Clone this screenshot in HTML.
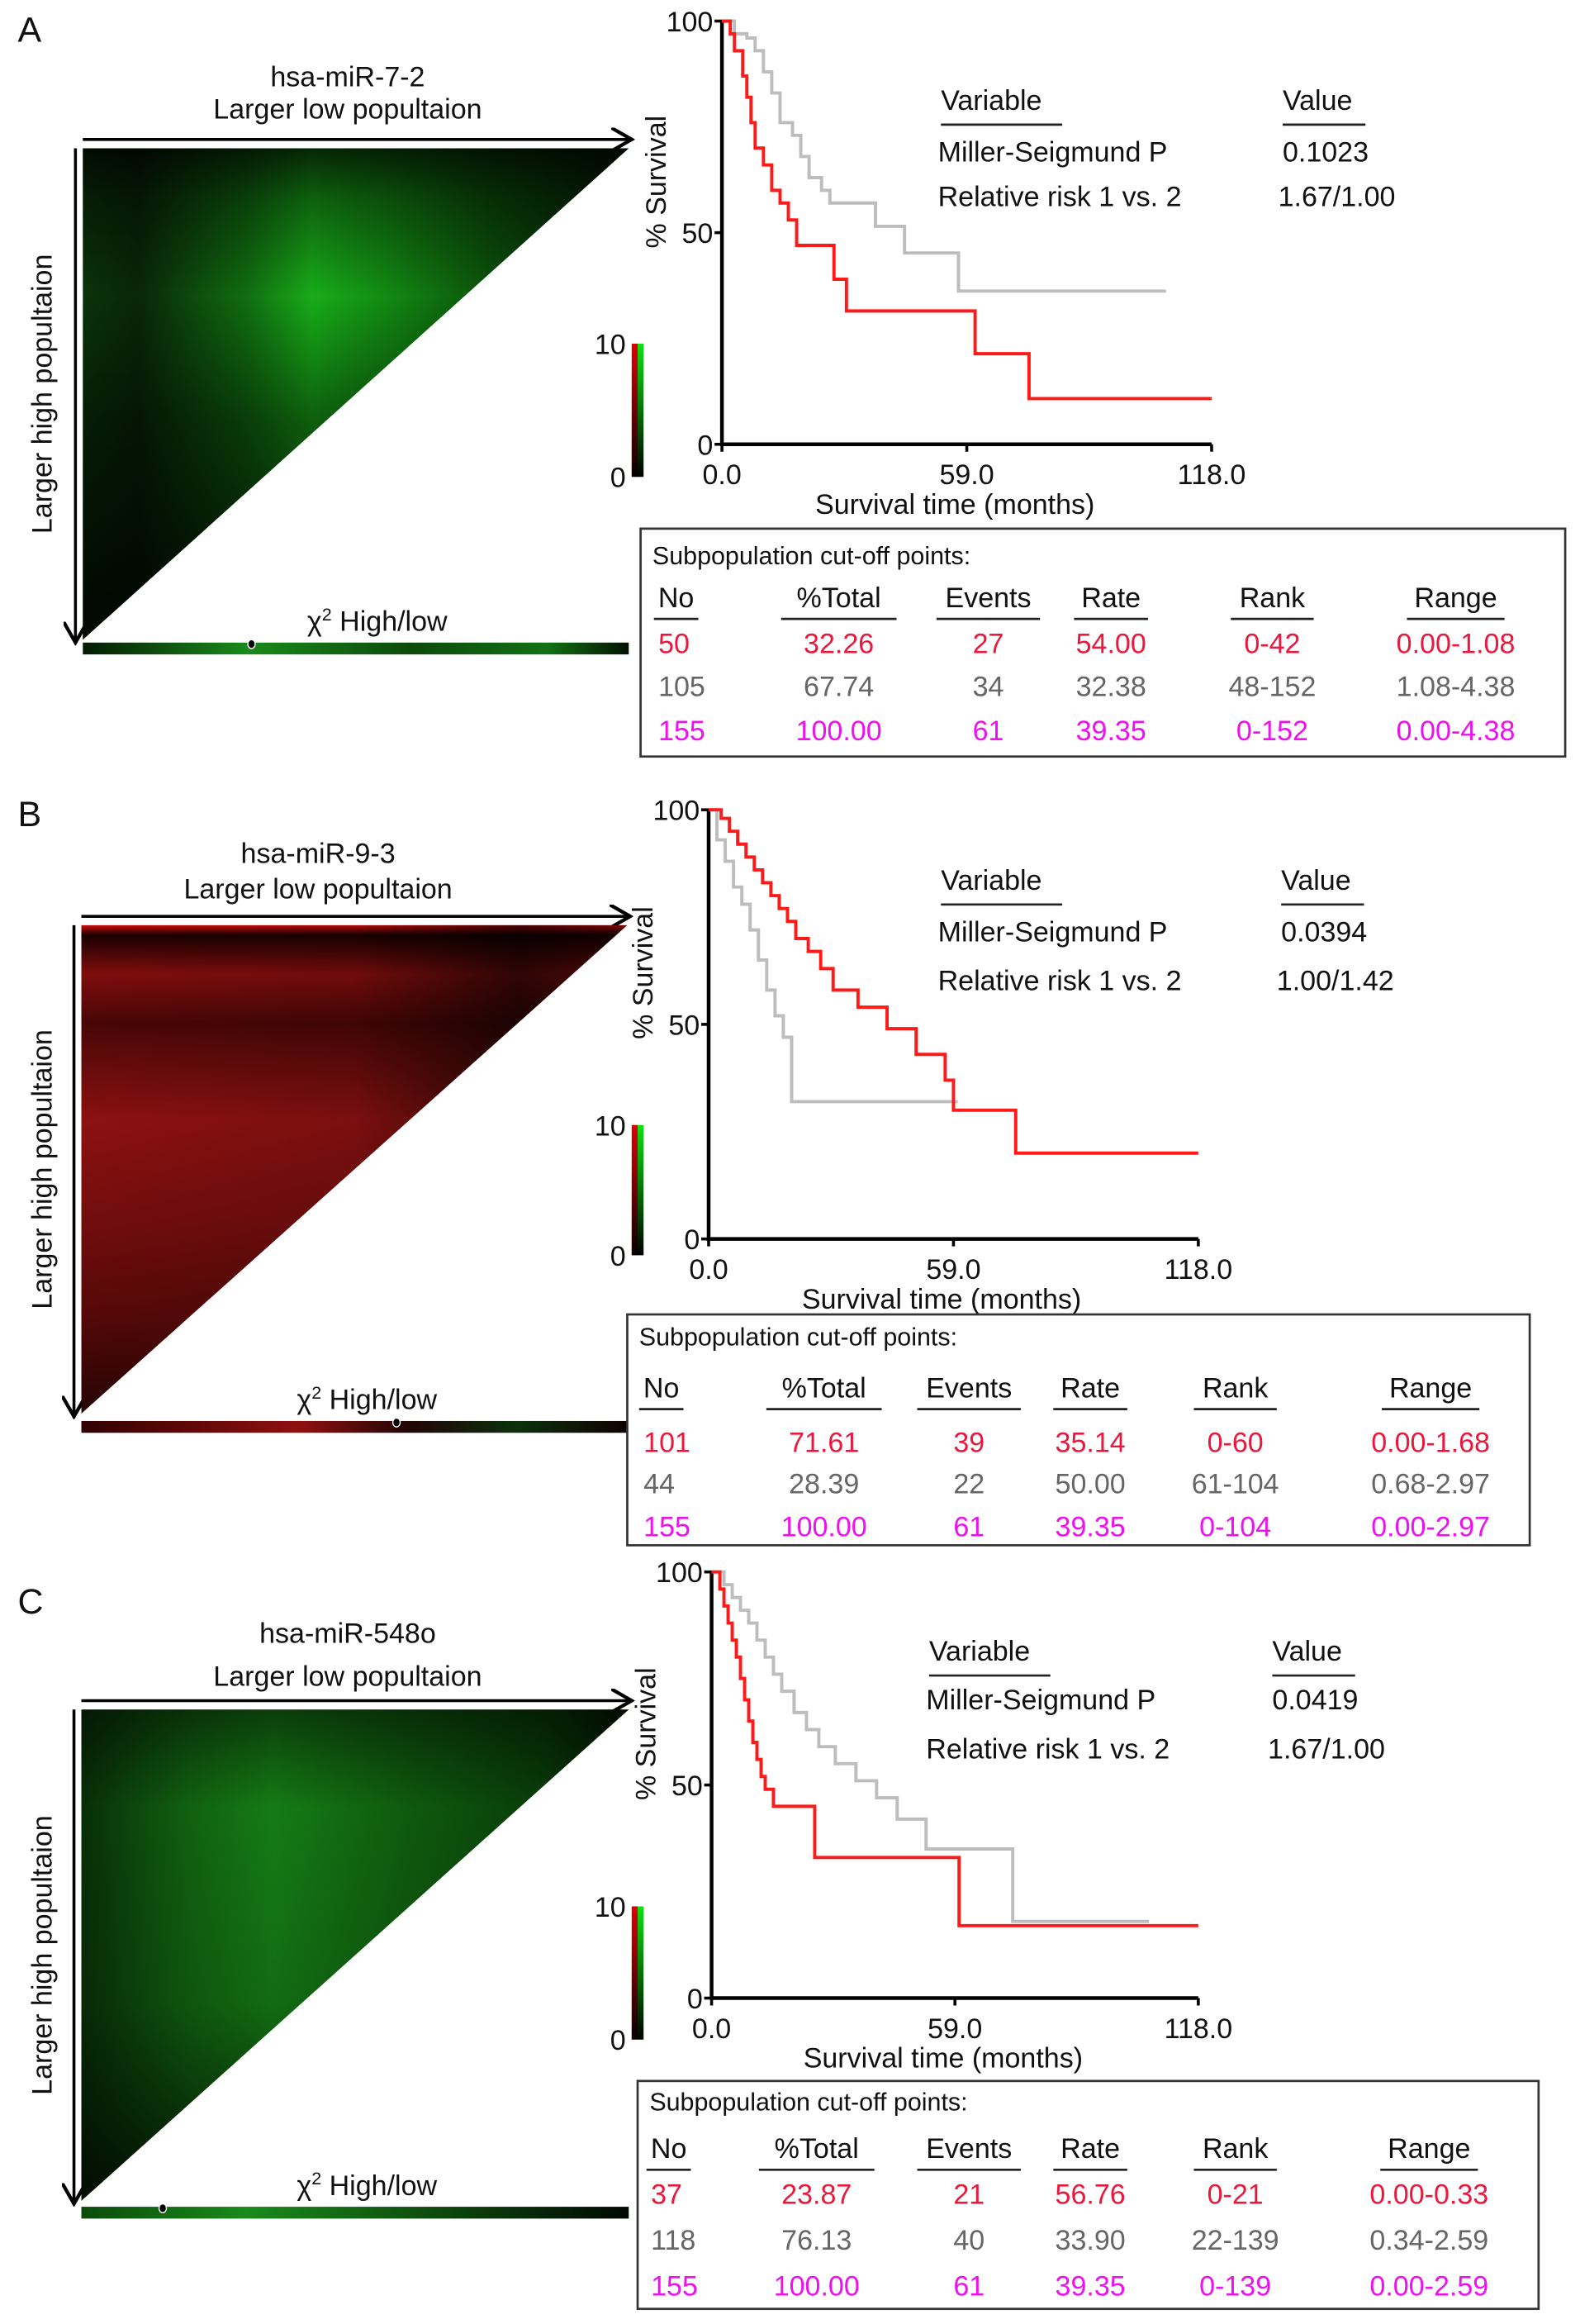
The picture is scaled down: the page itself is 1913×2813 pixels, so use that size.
<!DOCTYPE html>
<html><head><meta charset="utf-8"><style>
html,body{margin:0;padding:0;background:#fff}
svg{display:block}
text{font-family:"Liberation Sans",Arial,sans-serif;fill:#111}
</style></head><body>
<svg id="fig" width="1913" height="2813" viewBox="0 0 1068 1570" xmlns="http://www.w3.org/2000/svg">
<defs>
<linearGradient id="cbar" x1="0" y1="1" x2="0" y2="0"><stop offset="0" stop-color="#000"/><stop offset="1" stop-color="#000" stop-opacity="0"/></linearGradient>
<linearGradient id="gA" x1="0" y1="0" x2="1" y2="0">
<stop offset="0" stop-color="#0a3a0a"/><stop offset="0.1" stop-color="#0a2a0a"/><stop offset="0.3" stop-color="#127a12"/><stop offset="0.42" stop-color="#1bbf1b"/><stop offset="0.55" stop-color="#159a15"/><stop offset="0.75" stop-color="#0c5a0c"/><stop offset="1" stop-color="#052005"/></linearGradient>
<linearGradient id="vA" x1="0" y1="0" x2="0" y2="1">
<stop offset="0" stop-color="#000" stop-opacity="0.8"/><stop offset="0.1" stop-color="#000" stop-opacity="0.5"/><stop offset="0.3" stop-color="#000" stop-opacity="0.1"/><stop offset="0.55" stop-color="#000" stop-opacity="0.5"/><stop offset="1" stop-color="#000" stop-opacity="0.9"/></linearGradient>
<linearGradient id="gB" x1="0" y1="0" x2="0" y2="1">
<stop offset="0" stop-color="#ff1010"/><stop offset="0.02" stop-color="#200000"/><stop offset="0.1" stop-color="#a01010"/><stop offset="0.2" stop-color="#5a0808"/><stop offset="0.4" stop-color="#b01515"/><stop offset="0.6" stop-color="#901010"/><stop offset="0.8" stop-color="#6a0a0a"/><stop offset="1" stop-color="#300505"/></linearGradient>
<linearGradient id="hB" x1="0" y1="0" x2="1" y2="0">
<stop offset="0" stop-color="#000" stop-opacity="0.2"/><stop offset="0.5" stop-color="#000" stop-opacity="0.3"/><stop offset="0.8" stop-color="#000" stop-opacity="0.7"/><stop offset="1" stop-color="#000" stop-opacity="0.5"/></linearGradient>
<linearGradient id="gC" x1="0" y1="0" x2="1" y2="0">
<stop offset="0" stop-color="#0a3a0a"/><stop offset="0.2" stop-color="#157a15"/><stop offset="0.35" stop-color="#1a9a1a"/><stop offset="0.6" stop-color="#127012"/><stop offset="0.85" stop-color="#0a4a0a"/><stop offset="1" stop-color="#041a04"/></linearGradient>
<linearGradient id="vC" x1="0" y1="0" x2="0" y2="1">
<stop offset="0" stop-color="#000" stop-opacity="0.6"/><stop offset="0.2" stop-color="#000" stop-opacity="0.2"/><stop offset="0.6" stop-color="#000" stop-opacity="0.3"/><stop offset="1" stop-color="#000" stop-opacity="0.8"/></linearGradient>
<linearGradient id="chiA" x1="0" y1="0" x2="1" y2="0"><stop offset="0" stop-color="#041a04"/><stop offset="0.3" stop-color="#1a8a1a"/><stop offset="0.6" stop-color="#0c4a0c"/><stop offset="0.85" stop-color="#137013"/><stop offset="1" stop-color="#031203"/></linearGradient>
<linearGradient id="chiB" x1="0" y1="0" x2="1" y2="0"><stop offset="0" stop-color="#300000"/><stop offset="0.4" stop-color="#901010"/><stop offset="0.6" stop-color="#200505"/><stop offset="0.8" stop-color="#0c300c"/><stop offset="1" stop-color="#100000"/></linearGradient>
<linearGradient id="chiC" x1="0" y1="0" x2="1" y2="0"><stop offset="0" stop-color="#0c4a0c"/><stop offset="0.3" stop-color="#1a8a1a"/><stop offset="0.7" stop-color="#0c400c"/><stop offset="1" stop-color="#020802"/></linearGradient>
<marker id="arr" markerWidth="8" markerHeight="8" refX="7" refY="4" orient="auto"><path d="M0,0 L7,4 L0,8" fill="none" stroke="#000" stroke-width="1.2"/></marker>
</defs>
<g id="root"></g>
</svg>
<script>
// Panel A data
const aRedT=[0,2,3,5,6,7,8,10,12,14,16,18,27,30,61,74];
const aRedS=[100,97,93,87,82,76,70,66,60,57,53,47,39,31.5,21.4,10.8];
const aRedEnd=118;
const aGrayT=[0,3,6,8,10,12,14,17,19,21,24,26,37,44,57];
const aGrayS=[100,97,96,93,88,83,76,73,68,63,60,57,51.5,45.2,36.2];
const aGrayEnd=107;
// Panel B data
const bRedT=[0,3,5,7,9,11,13,15,17,19,21,24,27,30,36,43,50,57,59,74];
const bRedS=[100,98,95,92,89,86,83,80,77,74,70,67,63,58,54,49,43,37,30,20];
const bRedEnd=118;
const bGrayT=[0,2,4,6,8,10,12,14,16,18,20];
const bGrayS=[100,93,88,82,78,72,65,58,52,47,32];
const bGrayEnd=60;
// Panel C data
const cRedT=[0,2,3,4,5,6,7,8,9,10,11,12,13,15,25,60];
const cRedS=[100,96,92,88,84,80,75,70,65,60,56,52,49,45,33,17];
const cRedEnd=118;
const cGrayT=[0,3,5,7,9,11,13,15,17,20,23,26,30,35,40,45,52,73];
const cGrayS=[100,97,94,91,88,84,80,76,72,67,63,59,55,51,47,42,35,18];
const cGrayEnd=106;
const xTicks=["0.0","59.0","118.0"];
const xTickVals=[0,59,118];
const yTicks=[0,50,100];
const tableHead=["No","%Total","Events","Rate","Rank","Range"];
const aRows=[["50","32.26","27","54.00","0-42","0.00-1.08"],["105","67.74","34","32.38","48-152","1.08-4.38"],["155","100.00","61","39.35","0-152","0.00-4.38"]];
const bRows=[["101","71.61","39","35.14","0-60","0.00-1.68"],["44","28.39","22","50.00","61-104","0.68-2.97"],["155","100.00","61","39.35","0-104","0.00-2.97"]];
const cRows=[["37","23.87","21","56.76","0-21","0.00-0.33"],["118","76.13","40","33.90","22-139","0.34-2.59"],["155","100.00","61","39.35","0-139","0.00-2.59"]];

const NS="http://www.w3.org/2000/svg";
const root=document.getElementById('root');
const FS=19;
function mk(tag,attrs,parent,txt){const e=document.createElementNS(NS,tag);for(const k in attrs)e.setAttribute(k,attrs[k]);if(txt!==undefined)e.textContent=txt;(parent||root).appendChild(e);return e;}
const rowColors=["#e8193c","#666","#ee10ee"];

function panel(o){
  const g=mk('g',{});
  
  
  const L=mk('text',{x:12,y:o.letterY,'font-size':24},g,o.letter);
  
  const h=o.hm;
  const t1=mk('text',{x:h.tx,y:h.t1y,'font-size':FS,'text-anchor':'middle'},g,o.mir);
  
  const t2=mk('text',{x:h.tx,y:h.t2y,'font-size':FS,'text-anchor':'middle'},g,'Larger low popultaion');
  
  const ah=mk('line',{x1:h.x0,y1:h.y0-6,x2:h.x1+2,y2:h.y0-6,stroke:'#000','stroke-width':2,'marker-end':'url(#arr)'},g);
  
  const av=mk('line',{x1:h.x0-5,y1:h.y0,x2:h.x0-5,y2:h.y1+2,stroke:'#000','stroke-width':2,'marker-end':'url(#arr)'},g);
  
  const yt=mk('text',{x:0,y:0,'font-size':FS,'text-anchor':'middle',transform:`translate(35,${(h.y0+h.y1)/2}) rotate(-90)`},g,'Larger high popultaion');
  
  const pts=`${h.x0},${h.y0} ${h.x1},${h.y0} ${h.x0},${h.y1}`;
  const p1=mk('polygon',{points:pts,fill:`url(#${h.fill})`},g);
  
  const p2=mk('polygon',{points:pts,fill:`url(#${h.over})`},g);
  
  const ct=mk('text',{x:h.chiX,y:h.chiY-8,'font-size':FS,'text-anchor':'middle'},g);
  
  ct.innerHTML='χ<tspan dy="-7" font-size="12">2</tspan><tspan dy="7"> High/low</tspan>';
  const cb=mk('rect',{x:h.x0,y:h.chiY,width:h.x1-h.x0,height:8,fill:`url(#${h.chi})`},g);
  
  const dot=mk('ellipse',{cx:h.dotX,cy:h.chiY+1,rx:2.5,ry:3,fill:'#000',stroke:'#fff','stroke-width':0.8},g);
  
  const c=o.cb;
  const r1=mk('rect',{x:c.x,y:c.y0,width:4,height:c.y1-c.y0,fill:'#e00000'},g);
  const r2=mk('rect',{x:c.x+4,y:c.y0,width:4,height:c.y1-c.y0,fill:'#10e010'},g);
  const r3=mk('rect',{x:c.x,y:c.y0,width:8,height:c.y1-c.y0,fill:'url(#cbar)'},g);
  
  
  
  const c10=mk('text',{x:c.x-4,y:c.y0+7,'font-size':FS,'text-anchor':'end'},g,'10');
  
  const c0=mk('text',{x:c.x-4,y:c.y1+7,'font-size':FS,'text-anchor':'end'},g,'0');
  
  const k=o.km;
  const X=t=>k.x0+(k.x1-k.x0)*t/118;
  const Y=s=>k.yb-(k.yb-k.yt)*s/100;
  const ax=mk('path',{d:`M${k.x0},${k.yt} V${k.yb} H${k.x1}`,fill:'none',stroke:'#000','stroke-width':2.5},g);
  
  yTicks.forEach(v=>{
    const tl=mk('line',{x1:k.x0-5,y1:Y(v),x2:k.x0,y2:Y(v),stroke:'#000','stroke-width':2},g);
    
    const tt=mk('text',{x:k.x0-6,y:Y(v)+7,'font-size':FS,'text-anchor':'end'},g,String(v));
    
  });
  xTickVals.forEach((v,i)=>{
    const tl=mk('line',{x1:X(v),y1:k.yb,x2:X(v),y2:k.yb+5,stroke:'#000','stroke-width':2},g);
    
    const tt=mk('text',{x:X(v),y:k.yb+27,'font-size':FS,'text-anchor':'middle'},g,xTicks[i]);
    
  });
  const xl=mk('text',{x:X(59)-8,y:k.yb+47,'font-size':FS,'text-anchor':'middle'},g,'Survival time (months)');
  
  const yl=mk('text',{x:0,y:0,'font-size':FS,'text-anchor':'middle',transform:`translate(${k.x0-38},${Y(62)}) rotate(-90)`},g,'% Survival');
  
  function curve(T,S,end,col,name){
    let d=`M${X(T[0])},${Y(S[0])}`;
    for(let i=1;i<T.length;i++){d+=` H${X(T[i])} V${Y(S[i])}`;}
    d+=` H${X(end)}`;
    const p=mk('path',{d,fill:'none',stroke:col,'stroke-width':2.2},g);
    
  }
  curve(o.gray[0],o.gray[1],o.gray[2],'#bdbdbd','km-curve-low');
  curve(o.red[0],o.red[1],o.red[2],'#ff1a1a','km-curve-high');
  const s=o.st;
  const st=[['Variable',s.x1,s.y[0]],['Value',s.x2,s.y[0]],['Miller-Seigmund P',s.x1-2,s.y[1]],[s.p,s.x2,s.y[1]],['Relative risk 1 vs. 2',s.x1-2,s.y[2]],[s.rr,s.x2-3,s.y[2]]];
  st.forEach((q,i)=>{const t=mk('text',{x:q[1],y:q[2],'font-size':FS},g,q[0]);
    
    });
  const u1=mk('line',{x1:s.x1,y1:s.y[0]+10,x2:s.x1+82,y2:s.y[0]+10,stroke:'#222','stroke-width':1.5},g);
  const u2=mk('line',{x1:s.x2,y1:s.y[0]+10,x2:s.x2+56,y2:s.y[0]+10,stroke:'#222','stroke-width':1.5},g);
  
  
  const tb=o.tb;
  const box=mk('rect',{x:tb.x0,y:tb.y0,width:tb.x1-tb.x0,height:tb.y1-tb.y0,fill:'none',stroke:'#333','stroke-width':1.5},g);
  
  const tt=mk('text',{x:tb.x0+8,y:tb.ty,'font-size':17},g,'Subpopulation cut-off points:');
  
  const uw=[26,74,66,46,52,62];
  tableHead.forEach((hd,i)=>{
    const cx=tb.cols[i];
    const t=mk('text',{x:cx,y:tb.hy,'font-size':FS,'text-anchor':'middle'},g,hd);
    
    const u=mk('line',{x1:cx-uw[i]/2-2,y1:tb.hy+8,x2:cx+uw[i]/2+2,y2:tb.hy+8,stroke:'#222','stroke-width':1.5},g);
    
  });
  o.rows.forEach((row,r)=>{row.forEach((v,i)=>{
    const anchor=i===0?'start':'middle';
    const x=i===0?tb.cols[0]-12:tb.cols[i];
    const t=mk('text',{x,y:tb.ry[r],'font-size':FS,'text-anchor':anchor,style:`fill:${rowColors[r]}`},g,v);
    
  });});
}

panel({letter:'A',letterY:28,mir:'hsa-miR-7-2',
  hm:{x0:56,x1:425,y0:100,y1:432,tx:235,t1y:58,t2y:80,fill:'gA',over:'vA',chi:'chiA',chiX:255,chiY:434,dotX:170},
  cb:{x:427,y0:232,y1:322},
  km:{x0:488,x1:819,yt:14,yb:300},
  red:[aRedT,aRedS,aRedEnd],gray:[aGrayT,aGrayS,aGrayEnd],
  st:{x1:636,x2:867,y:[74,109,139],p:'0.1023',rr:'1.67/1.00'},
  tb:{x0:433,x1:1058,y0:357,y1:511,ty:381,hy:410,cols:[457,567,668,751,860,984],ry:[441,470,500]},
  rows:aRows});
panel({letter:'B',letterY:558,mir:'hsa-miR-9-3',
  hm:{x0:55,x1:424,y0:625,y1:955,tx:215,t1y:583,t2y:607,fill:'gB',over:'hB',chi:'chiB',chiX:248,chiY:960,dotX:268},
  cb:{x:427,y0:760,y1:848},
  km:{x0:479,x1:810,yt:547,yb:837},
  red:[bRedT,bRedS,bRedEnd],gray:[bGrayT,bGrayS,bGrayEnd],
  st:{x1:636,x2:866,y:[601,636,669],p:'0.0394',rr:'1.00/1.42'},
  tb:{x0:424,x1:1034,y0:888,y1:1044,ty:909,hy:944,cols:[447,557,655,737,835,967],ry:[981,1009,1038]},
  rows:bRows});
panel({letter:'C',letterY:1090,mir:'hsa-miR-548o',
  hm:{x0:55,x1:425,y0:1155,y1:1487,tx:235,t1y:1110,t2y:1139,fill:'gC',over:'vC',chi:'chiC',chiX:248,chiY:1491,dotX:110},
  cb:{x:427,y0:1288,y1:1378},
  km:{x0:481,x1:810,yt:1062,yb:1350},
  red:[cRedT,cRedS,cRedEnd],gray:[cGrayT,cGrayS,cGrayEnd],
  st:{x1:628,x2:860,y:[1122,1155,1188],p:'0.0419',rr:'1.67/1.00'},
  tb:{x0:431,x1:1040,y0:1406,y1:1560,ty:1426,hy:1458,cols:[452,552,655,737,835,966],ry:[1489,1520,1551]},
  rows:cRows});
</script>
</body></html>
